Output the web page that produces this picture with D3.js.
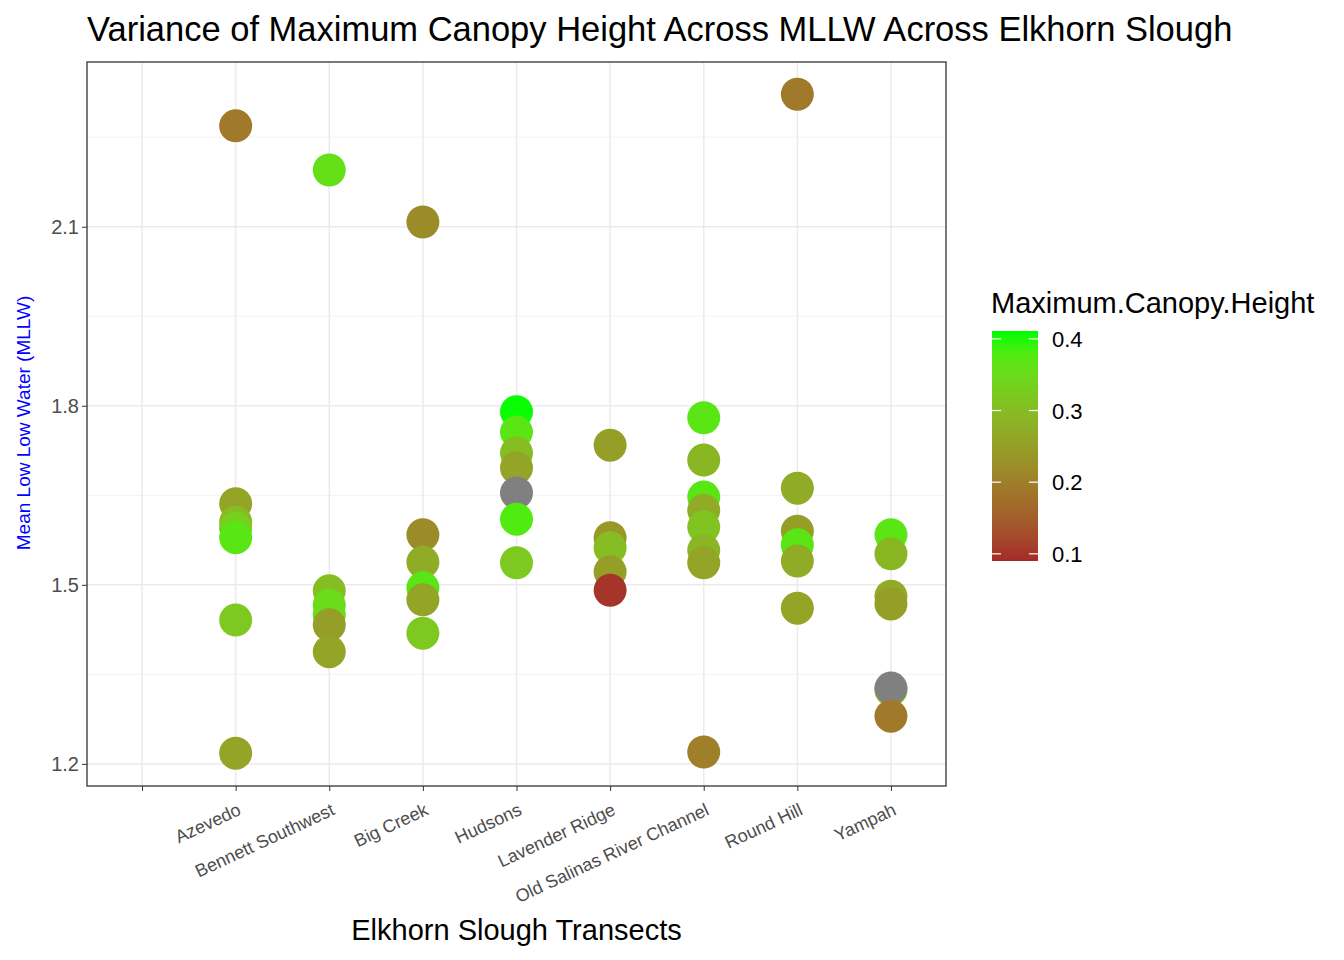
<!DOCTYPE html>
<html>
<head>
<meta charset="utf-8">
<script src="https://cdn.jsdelivr.net/npm/d3@7"></script>
<style>
body { margin: 0; background: #fff; font-family: Arial, "Liberation Sans", sans-serif; }
</style>
</head>
<body>
<svg id="chart" width="1344" height="960"></svg>
<script>
// categories (first is the blank transect)
var transects = ["", "Azevedo", "Bennett Southwest", "Big Creek", "Hudsons", "Lavender Ridge",
  "Old Salinas River Channel", "Round Hill", "Yampah"];

// one row per point: transect index, MLLW, max canopy height (null = NA)
var ptTransect = [1,1,1,1,1,1,1, 2,2,2,2,2,2, 3,3,3,3,3,3, 4,4,4,4,4,4,4,
  5,5,5,5,5, 6,6,6,6,6,6,6,6, 7,7,7,7,7,7, 8,8,8,8,8,8,8];
var ptMllw = [2.269,1.636,1.605,1.595,1.579,1.441,1.218,
  2.195,1.49,1.466,1.45,1.433,1.388,
  2.108,1.584,1.538,1.495,1.475,1.419,
  1.79,1.756,1.721,1.696,1.654,1.61,1.537,
  1.734,1.579,1.562,1.522,1.491,
  1.78,1.709,1.647,1.625,1.597,1.558,1.537,1.22,
  2.322,1.662,1.59,1.567,1.54,1.461,
  1.584,1.552,1.481,1.468,1.324,1.327,1.28];
var ptHeight = [0.19,0.26,0.30,0.33,0.37,0.32,0.26,
  0.36,0.30,0.35,0.35,0.25,0.26,
  0.22,0.22,0.27,0.37,0.26,0.32,
  0.41,0.37,0.30,0.26,null,0.38,0.32,
  0.25,0.24,0.30,0.25,0.10,
  0.37,0.29,0.37,0.27,0.31,0.29,0.26,0.20,
  0.19,0.27,0.25,0.37,0.27,0.26,
  0.37,0.29,0.27,0.25,0.30,null,0.19];

var yTicks = [1.2, 1.5, 1.8, 2.1];
var yMinor = [1.35, 1.65, 1.95, 2.25];
var legendTicks = [0.1, 0.2, 0.3, 0.4];

var svg = d3.select("#chart");
var L = 87, R = 946, T = 62, B = 786;

var x = d3.scalePoint().domain(d3.range(transects.length)).range([L, R]).padding(0.588);
var y = d3.scaleLinear().domain([1.163, 2.376]).range([B, T]);
var color = d3.scaleLinear().domain([0.09, 0.411]).range(["#A52A2A", "#00FF00"])
  .interpolate(d3.interpolateLab);

// grid
svg.selectAll(".minor").data(yMinor).enter().append("line")
  .attr("x1", L).attr("x2", R).attr("y1", d => y(d)).attr("y2", d => y(d))
  .attr("stroke", "#f2f2f2").attr("stroke-width", 1);
svg.selectAll(".major").data(yTicks).enter().append("line")
  .attr("x1", L).attr("x2", R).attr("y1", d => y(d)).attr("y2", d => y(d))
  .attr("stroke", "#ebebeb").attr("stroke-width", 1.5);
svg.selectAll(".vgrid").data(d3.range(transects.length)).enter().append("line")
  .attr("x1", d => x(d)).attr("x2", d => x(d)).attr("y1", T).attr("y2", B)
  .attr("stroke", "#ebebeb").attr("stroke-width", 1.5);

// points
svg.selectAll(".pt").data(ptMllw).enter().append("circle")
  .attr("cx", (d, i) => x(ptTransect[i]))
  .attr("cy", d => y(d))
  .attr("r", 16.5)
  .attr("fill", (d, i) => ptHeight[i] == null ? "#808080" : color(ptHeight[i]));

// panel border
svg.append("rect").attr("x", L).attr("y", T).attr("width", R - L).attr("height", B - T)
  .attr("fill", "none").attr("stroke", "#333").attr("stroke-width", 1.3);

// axes
var yAxis = svg.append("g").attr("transform", "translate(" + L + ",0)")
  .call(d3.axisLeft(y).tickValues(yTicks).tickSize(5).tickFormat(d3.format(".1f")));
var xAxis = svg.append("g").attr("transform", "translate(0," + B + ")")
  .call(d3.axisBottom(x).tickSize(5).tickFormat(i => transects[i]));
[yAxis, xAxis].forEach(function (g) {
  g.select(".domain").remove();
  g.selectAll("line").attr("stroke", "#333");
  g.selectAll("text").attr("fill", "#4d4d4d").style("font-size", "20px")
    .style("font-family", "Arial, 'Liberation Sans', sans-serif");
});
yAxis.selectAll("text").attr("x", -8);
xAxis.selectAll("text").style("font-size", "18px")
  .attr("text-anchor", "end").attr("dy", 0).attr("y", 0)
  .attr("transform", "translate(6,28) rotate(-25)");

// titles
svg.append("text").attr("x", 87).attr("y", 41).text("Variance of Maximum Canopy Height Across MLLW Across Elkhorn Slough")
  .style("font-size", "34.5px").attr("fill", "#000");
svg.append("text").attr("x", (L + R) / 2).attr("y", 940).attr("text-anchor", "middle")
  .text("Elkhorn Slough Transects").style("font-size", "29px").attr("fill", "#000");
svg.append("text").attr("transform", "translate(30," + ((T + B) / 2 - 1) + ") rotate(-90)")
  .attr("text-anchor", "middle").text("Mean Low Low Water (MLLW)")
  .style("font-size", "19px").attr("fill", "blue");

// legend
var lg = svg.append("g");
lg.append("text").attr("x", 991).attr("y", 313).text("Maximum.Canopy.Height")
  .style("font-size", "29px").attr("fill", "#000");
var defs = svg.append("defs");
var grad = defs.append("linearGradient").attr("id", "cg").attr("x1", 0).attr("x2", 0).attr("y1", 1).attr("y2", 0);
d3.range(0, 1.0001, 0.1).forEach(function (t) {
  grad.append("stop").attr("offset", t).attr("stop-color", color(0.09 + t * (0.411 - 0.09)));
});
var ly = d3.scaleLinear().domain([0.09, 0.411]).range([561, 331]);
lg.append("rect").attr("x", 992).attr("y", 331).attr("width", 46).attr("height", 230).attr("fill", "url(#cg)");
legendTicks.forEach(function (v) {
  lg.append("line").attr("x1", 992).attr("x2", 1001).attr("y1", ly(v)).attr("y2", ly(v)).attr("stroke", "#fff").attr("stroke-width", 1.2);
  lg.append("line").attr("x1", 1029).attr("x2", 1038).attr("y1", ly(v)).attr("y2", ly(v)).attr("stroke", "#fff").attr("stroke-width", 1.2);
  lg.append("text").attr("x", 1052).attr("y", ly(v) + 8).text(v.toFixed(1))
    .style("font-size", "22px").attr("fill", "#000");
});
</script>
</body>
</html>
